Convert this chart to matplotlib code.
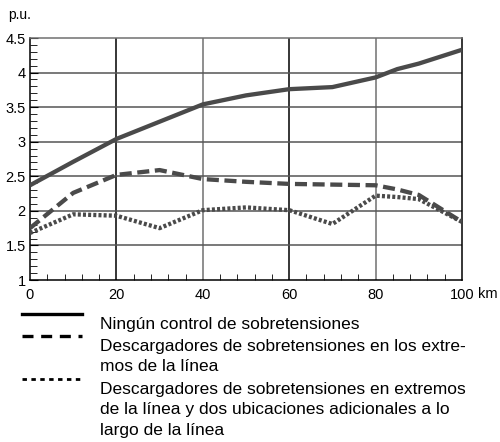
import numpy as np
import matplotlib.pyplot as plt
from matplotlib.lines import Line2D
from matplotlib.ticker import MultipleLocator

plt.rcParams['font.family'] = ['Liberation Sans', 'DejaVu Sans']

# Line length (km) vs overvoltage (p.u.)
km = [0, 10, 20, 30, 40, 50, 60, 70, 80, 85, 90, 100]
sin_control = [2.37, 2.71, 3.04, 3.29, 3.54, 3.67, 3.76, 3.79, 3.93, 4.05, 4.13, 4.33]
desc_extremos = [1.75, 2.26, 2.52, 2.59, 2.46, 2.42, 2.39, 2.38, 2.37, 2.31, 2.23, 1.84]
desc_adicional = [1.68, 1.95, 1.93, 1.75, 2.01, 2.05, 2.01, 1.81, 2.22, 2.20, 2.17, 1.84]

labels = ["Ningún control de sobretensiones",
          "Descargadores de sobretensiones en los extre-\nmos de la línea",
          "Descargadores de sobretensiones en extremos\nde la línea y dos ubicaciones adicionales a lo\nlargo de la línea"]

col = '#4a4a4a'
fig = plt.figure(figsize=(5, 4.42), dpi=100)
ax = fig.add_axes([0.06, 0.3665, 0.864, 0.5475])

# grid
for i, xv in enumerate([20, 40, 60, 80]):
    ax.axvline(xv, color='black' if i % 2 == 0 else '#707070', lw=1.1, zorder=1)
for yv in [1.5, 2, 2.5, 3, 3.5, 4]:
    ax.axhline(yv, color='#555555', lw=1.1, zorder=1)

ax.plot(km, sin_control, color=col, lw=3.1, solid_capstyle='butt', zorder=3)
ax.plot(km, desc_extremos, color=col, lw=3.1, dashes=(2.8, 1.3), zorder=3)
ax.plot(km, desc_adicional, color=col, lw=3.1, dashes=(0.7, 0.5), zorder=3)

ax.set_xlim(0, 100)
ax.set_ylim(1, 4.5)
ax.set_xticks([0, 20, 40, 60, 80, 100])
ax.set_yticks([1, 1.5, 2, 2.5, 3, 3.5, 4, 4.5])
ax.set_yticklabels(['1', '1.5', '2', '2.5', '3', '3.5', '4', '4.5'])
ax.xaxis.set_minor_locator(MultipleLocator(4))
ax.yaxis.set_minor_locator(MultipleLocator(0.1))
ax.tick_params(which='both', direction='in', labelsize=10.5)
ax.tick_params(axis='x', which='major', length=0, pad=6)
ax.tick_params(axis='y', which='major', length=6, pad=3)
ax.tick_params(axis='x', which='minor', length=4)
ax.tick_params(axis='y', which='minor', length=5)
ax.spines['top'].set_color('#707070')
for s in ax.spines.values():
    s.set_linewidth(1.1)

fig.text(478 / 500, 1 - 294 / 442, 'km', fontsize=10.5, va='center', ha='left')
fig.text(8 / 500, 1 - 15 / 442, 'p.u.', fontsize=10, va='center', ha='left')

# manual legend
H = 442.0
legend_y = [314, 336, 379]
styles = ['-', (0, (3.3, 2.3)), (0, (1.6, 1.6))]
widths = [2.4, 2.4, 2.0]
for ly, st, w, lab in zip(legend_y, styles, widths, labels):
    fig.add_artist(Line2D([22 / 500, 82 / 500], [1 - ly / H, 1 - ly / H],
                          color='black', lw=w, linestyle=st))
    fig.text(100 / 500, 1 - (ly + 3) / H, lab, fontsize=12.5, va='top',
             ha='left', linespacing=1.45)

fig.savefig('out.png', dpi=100)
